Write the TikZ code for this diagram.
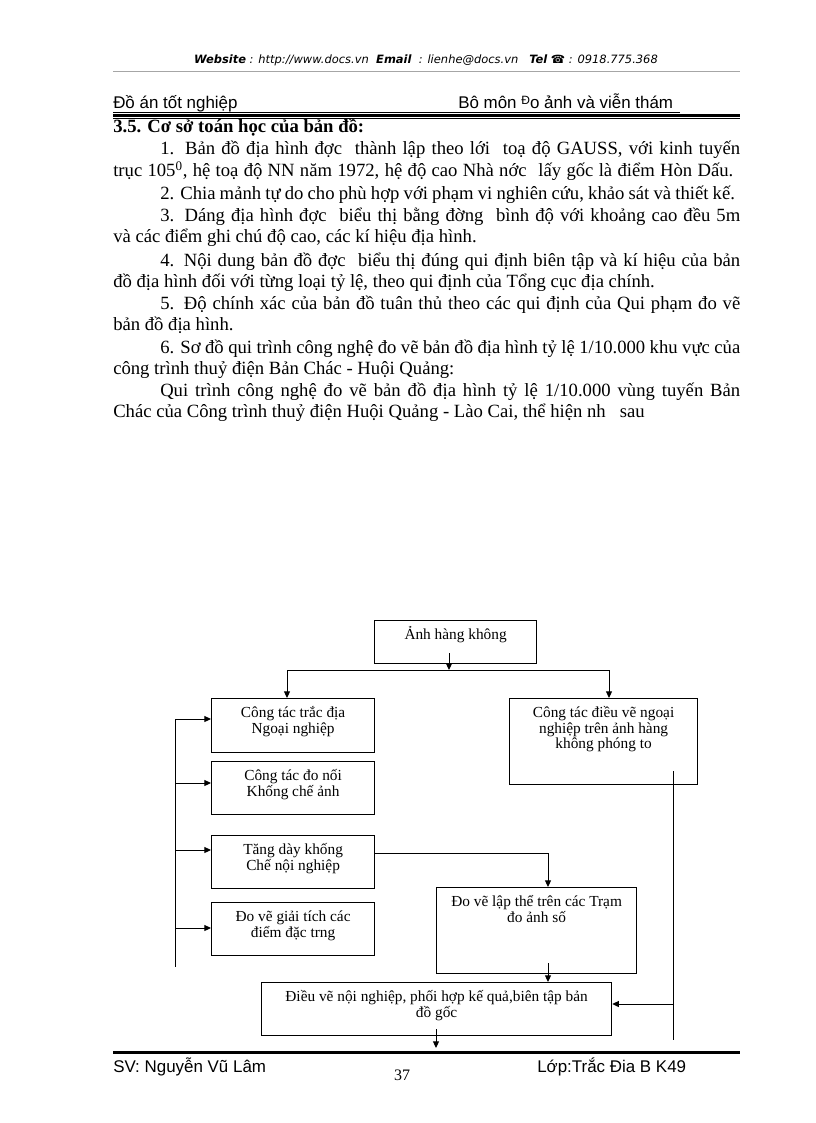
\documentclass[tikz,border=0pt]{standalone}
\usepackage{fontspec}
\setmainfont{Liberation Serif}
\newfontfamily\sansf{Liberation Sans}
\newfontfamily\djv{DejaVu Sans}
\usetikzlibrary{arrows.meta}
\newcommand\bxt[3]{\parbox[c][#2][t]{#1}{\centering\fontsize{11.5}{11.6}\selectfont\lineskiplimit=-20pt\rule{0pt}{14.5pt}#3\par}}
\begin{document}
\begin{tikzpicture}[x=0.75pt,y=-0.75pt,
  box/.style={draw, line width=0.9pt, inner sep=0pt, anchor=north west},
  arr/.style={-{Triangle[length=5pt,width=4.5pt]}, line width=0.75pt},
  ln/.style={line width=0.75pt},
  body/.style={anchor=base west, inner sep=0pt, font=\fontsize{14}{16}\selectfont},
  hd/.style={anchor=base west, inner sep=0pt, font=\sansf\fontsize{12.7}{14}\selectfont}
]
\path[fill=white,use as bounding box] (0,0) rectangle (816,1123);

% ---------- header ----------
\node[anchor=base, inner sep=0pt, font=\djv\fontsize{8.6}{10}\selectfont\itshape] (web) at (426,64)
  {\textbf{Website} : http://www.docs.vn\ \ \textbf{Email}\ \ : lienhe@docs.vn\ \ \ \textbf{Tel} {\upshape ☎} : 0918.775.368};
\draw[gray!70, line width=0.75pt] (113,72) -- (740,72);
\node[hd] (h1) at (113,109) {Đồ án tốt nghiệp};
\node[hd] (h2) at (458,109) {Bô môn \raisebox{3.5pt}{\fontsize{9}{9}\selectfont Đ}o ảnh và viễn thám};
\draw[line width=0.75pt] (113,112.5) -- (680,112.5);
\draw[line width=1.6pt] (113,115.5) -- (740,115.5);
\draw[line width=0.75pt] (113,118.8) -- (740,118.8);

% ---------- body ----------
\node[body, font=\bfseries\fontsize{14}{16}\selectfont] (t0) at (113,133) {3.5. Cơ sở toán học của bản đồ:};
\node[body] (t1) at (160,155) {\makebox[435pt][s]{1. Bản đồ địa hình đợc\hspace{0.35em} thành lập theo lới\hspace{0.35em} toạ độ GAUSS, với kinh tuyến}};
\node[body] (t2) at (113,177) {\makebox[465pt][s]{trục 105\textsuperscript{0}, hệ toạ độ NN năm 1972, hệ độ cao Nhà nớc\hspace{0.35em} lấy gốc là điểm Hòn Dấu.}};
\node[body] (t3) at (160,200) {\makebox[431pt][s]{2. Chia mảnh tự do cho phù hợp với phạm vi nghiên cứu, khảo sát và thiết kế.}};
\node[body] (t4) at (160,222) {\makebox[435pt][s]{3. Dáng địa hình đợc\hspace{0.35em} biểu thị bằng đờng\hspace{0.35em} bình độ với khoảng cao đều 5m}};
\node[body] (t5) at (113,243) {và các điểm ghi chú độ cao, các kí hiệu địa hình.};
\node[body] (t6) at (160,266) {\makebox[435pt][s]{4. Nội dung bản đồ đợc\hspace{0.35em} biểu thị đúng qui định biên tập và kí hiệu của bản}};
\node[body] (t7) at (113,287) {đồ địa hình đối với từng loại tỷ lệ, theo qui định của Tổng cục địa chính.};
\node[body] (t8) at (160,309) {\makebox[435pt][s]{5. Độ chính xác của bản đồ tuân thủ theo các qui định của Qui phạm đo vẽ}};
\node[body] (t9) at (113,330) {bản đồ địa hình.};
\node[body] (t10) at (160,353) {\makebox[435pt][s]{6. Sơ đồ qui trình công nghệ đo vẽ bản đồ địa hình tỷ lệ 1/10.000 khu vực của}};
\node[body] (t11) at (113,374) {công trình thuỷ điện Bản Chác - Huội Quảng:};
\node[body] (t12) at (160,396) {\makebox[435pt][s]{Qui trình công nghệ đo vẽ bản đồ địa hình tỷ lệ 1/10.000 vùng tuyến Bản}};
\node[body] (t13) at (113,417) {Chác của Công trình thuỷ điện Huội Quảng - Lào Cai, thể hiện nh\hspace{0.5em} sau};

% ---------- diagram ----------
\node[box] (A) at (374,620) {\bxt{121.5pt}{32.25pt}{Ảnh hàng không}};
\node[box] (B) at (211,698) {\bxt{122.25pt}{40.5pt}{Công tác trắc địa\\Ngoại nghiệp}};
\node[box] (C) at (509,698) {\bxt{141pt}{64.5pt}{Công tác điều vẽ ngoại\\nghiệp trên ảnh hàng\\không phóng to}};
\node[box] (D) at (211,761) {\bxt{122.25pt}{39.75pt}{Công tác đo nối\\Khống chế ảnh}};
\node[box] (E) at (211,835) {\bxt{122.25pt}{39.75pt}{Tăng dày khống\\Chế nội nghiệp}};
\node[box] (F) at (211,902) {\bxt{122.25pt}{39.75pt}{Đo vẽ giải tích các\\điểm đặc trng}};
\node[box] (G) at (436,887) {\bxt{150pt}{64.5pt}{Đo vẽ lập thể trên các Trạm\\đo ảnh số}};
\node[box] (H) at (261,982) {\bxt{262.5pt}{39.75pt}{Điều vẽ nội nghiệp, phối hợp kế quả,biên tập bản\\đồ gốc}};

% connectors
\coordinate (a1) at (449,653);
\coordinate (jn) at (449,670);
\coordinate (bl) at (287,670);
\coordinate (br) at (609,670);
\draw[arr] (a1) -- (jn);
\draw[ln] (bl) -- (br);
\draw[arr] (bl) -- (bl |- B.north);
\draw[arr] (br) -- (br |- C.north);

\coordinate (la1) at (175,719);
\coordinate (la2) at (175,783);
\coordinate (la3) at (175,850);
\coordinate (la4) at (175,928);
\coordinate (lb) at (175,967);
\draw[ln] (la1) -- (lb);
\draw[arr] (la1) -- (la1 -| B.west);
\draw[arr] (la2) -- (la2 -| D.west);
\draw[arr] (la3) -- (la3 -| E.west);
\draw[arr] (la4) -- (la4 -| F.west);

\coordinate (ej) at (548,853);
\draw[arr] (ej -| E.east) -- (ej) -- (ej |- G.north);

\coordinate (g1) at (548,963);
\draw[arr] (g1) -- (g1 |- H.north);

\coordinate (r1) at (673,771);
\coordinate (r2) at (673,1040);
\coordinate (r3) at (673,1004);
\draw[ln] (r1) -- (r2);
\draw[arr] (r3) -- (r3 -| H.east);

\coordinate (hb1) at (436,1029);
\coordinate (hb2) at (436,1048);
\draw[arr] (hb1) -- (hb2);

% ---------- footer ----------
\draw[line width=1.6pt] (113,1052.5) -- (740,1052.5);
\node[hd] (f1) at (113,1072) {SV: Nguyễn Vũ Lâm};
\node[anchor=base, inner sep=0pt, font=\fontsize{12}{14}\selectfont] (f2) at (402,1080) {37};
\node[hd] (f3) at (537,1072) {Lớp:Trắc Đia B K49};
\end{tikzpicture}
\end{document}
